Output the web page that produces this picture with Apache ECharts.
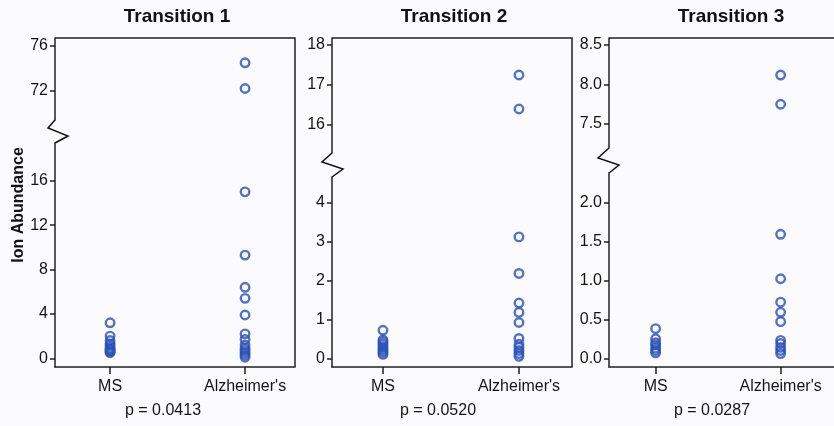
<!DOCTYPE html>
<html>
<head>
<meta charset="utf-8">
<script src="https://cdn.jsdelivr.net/npm/echarts@6/dist/echarts.min.js"></script>
<style>
html,body{margin:0;padding:0;background:#fbfbfd;}
#chart{width:834px;height:426px;}
</style>
</head>
<body>
<div id="chart"></div>
<script>
// ---- data ----
const categories = ['MS', "Alzheimer's"];
const titles = ['Transition 1', 'Transition 2', 'Transition 3'];
const pValues = ['p = 0.0413', 'p = 0.0520', 'p = 0.0287'];
const yAxisTitle = 'Ion Abundance';

const msT1  = [3.2, 2.0, 1.6, 1.3, 1.1, 0.9, 0.8, 0.7, 0.6, 0.5];
const alzT1 = [74.5, 72.2, 15.0, 9.3, 6.4, 5.4, 3.9, 2.2, 1.7, 1.2, 0.9, 0.7, 0.5, 0.3, 0.1];
const msT2  = [0.72, 0.47, 0.42, 0.36, 0.30, 0.25, 0.20, 0.15, 0.10];
const alzT2 = [17.25, 16.4, 3.12, 2.18, 1.42, 1.18, 0.92, 0.51, 0.36, 0.28, 0.20, 0.12, 0.05];
const msT3  = [0.38, 0.25, 0.20, 0.17, 0.13, 0.10, 0.07];
const alzT3 = [8.12, 7.75, 1.59, 1.02, 0.72, 0.59, 0.47, 0.23, 0.19, 0.14, 0.10, 0.06];

const ticksUpperT1 = [72, 76];
const ticksLowerT1 = [0, 4, 8, 12, 16];
const ticksUpperT2 = [16, 17, 18];
const ticksLowerT2 = [0, 1, 2, 3, 4];
const ticksUpperT3 = [7.5, 8.0, 8.5];
const ticksLowerT3 = [0.0, 0.5, 1.0, 1.5, 2.0];

// ---- layout ----
const FONT = '"Liberation Sans", Arial, Helvetica, sans-serif';
const TEXT = '#141414';
const AXIS = '#222222';
const MARK = '#2c50b6';

const panels = [
  { ms: msT1, alz: alzT1, up: ticksUpperT1, low: ticksLowerT1, dec: 0,
    left: 55, width: 240, top: 38, upBottom: 120, lowTop: 143, bottom: 367,
    upMin: 69.38, upMax: 76.72, lowMin: -0.784, lowMax: 19.4,
    xMin: -0.408, xMax: 1.37, zig: [[55,120],[48,128],[68,136],[55,143]], pX: 163 },
  { ms: msT2, alz: alzT2, up: ticksUpperT2, low: ticksLowerT2, dec: 0,
    left: 332, width: 240, top: 38, upBottom: 153, lowTop: 177, bottom: 367,
    upMin: 15.3, upMax: 18.175, lowMin: -0.224, lowMax: 4.66,
    xMin: -0.375, xMax: 1.39, zig: [[332,153],[322,162],[343,169],[332,177]], pX: 438 },
  { ms: msT3, alz: alzT3, up: ticksUpperT3, low: ticksLowerT3, dec: 1,
    left: 609, width: 240, top: 38, upBottom: 148, lowTop: 173, bottom: 367,
    upMin: 7.196, upMax: 8.589, lowMin: -0.1115, lowMax: 2.376,
    xMin: -0.373, xMax: 1.427, zig: [[609,148],[598,158],[619,165],[609,173]], pX: 712 }
];

const grids = [], xAxes = [], yAxes = [], series = [], graphics = [];

panels.forEach((p, pi) => {
  const segs = [
    { top: p.top, h: p.upBottom - p.top, min: p.upMin, max: p.upMax, ticks: p.up, lower: false },
    { top: p.lowTop, h: p.bottom - p.lowTop, min: p.lowMin, max: p.lowMax, ticks: p.low, lower: true }
  ];
  segs.forEach(s => {
    const gi = grids.length;
    grids.push({ left: p.left, top: s.top, width: p.width, height: s.h, containLabel: false });
    xAxes.push({
      type: 'value', gridIndex: gi, min: p.xMin, max: p.xMax, show: s.lower,
      splitLine: { show: false },
      axisLine: { show: true, onZero: false, lineStyle: { color: AXIS, width: 1.5 } },
      axisTick: { show: true, length: 7, customValues: [0, 1], lineStyle: { color: AXIS, width: 1.5 } },
      axisLabel: { customValues: [0, 1], formatter: v => categories[Math.round(v)] || '',
        color: TEXT, fontSize: 16, fontFamily: FONT, margin: 12 }
    });
    yAxes.push({
      type: 'value', gridIndex: gi, min: s.min, max: s.max,
      splitLine: { show: false },
      axisLine: { show: true, onZero: false, lineStyle: { color: AXIS, width: 1.5 } },
      axisTick: { show: true, length: 5, customValues: s.ticks, lineStyle: { color: AXIS, width: 1.5 } },
      axisLabel: { customValues: s.ticks, formatter: v => Number(v).toFixed(p.dec),
        color: TEXT, fontSize: 16, fontFamily: FONT, margin: 7 }
    });
    const data = [];
    p.ms.forEach(v => { if (v >= s.min && v <= s.max) data.push([0, v]); });
    p.alz.forEach(v => { if (v >= s.min && v <= s.max) data.push([1, v]); });
    series.push({
      type: 'scatter', xAxisIndex: gi, yAxisIndex: gi, data: data,
      symbol: 'circle', symbolSize: 8.5, clip: false, silent: true,
      itemStyle: { color: 'rgba(0,0,0,0)', borderColor: MARK, borderWidth: 2.4 }
    });
  });
  // frame: top and right lines
  const right = p.left + p.width;
  graphics.push({ type: 'polyline', silent: true,
    shape: { points: [[p.left, p.top], [right, p.top], [right, p.bottom]] },
    style: { stroke: AXIS, lineWidth: 1.5, fill: null } });
  // axis break zigzag
  graphics.push({ type: 'polyline', silent: true, shape: { points: p.zig },
    style: { stroke: '#111', lineWidth: 1.5, fill: null } });
  // panel title
  graphics.push({ type: 'text', silent: true, x: p.left + p.width / 2 + 2, y: 17,
    style: { text: titles[pi], textAlign: 'center', textVerticalAlign: 'middle',
      font: 'bold 19px ' + FONT, fill: '#111' } });
  // p-value
  graphics.push({ type: 'text', silent: true, x: p.pX, y: 411,
    style: { text: pValues[pi], textAlign: 'center', textVerticalAlign: 'middle',
      font: '16px ' + FONT, fill: TEXT } });
});

graphics.push({ type: 'text', silent: true, x: 19, y: 205, rotation: Math.PI / 2,
  style: { text: yAxisTitle, textAlign: 'center', textVerticalAlign: 'middle',
    font: 'bold 16px ' + FONT, fill: '#111' } });

const chart = echarts.init(document.getElementById('chart'), null, { renderer: 'canvas' });
chart.setOption({
  backgroundColor: '#fbfbfd',
  animation: false,
  grid: grids, xAxis: xAxes, yAxis: yAxes, series: series,
  graphic: graphics
});
</script>
</body>
</html>
